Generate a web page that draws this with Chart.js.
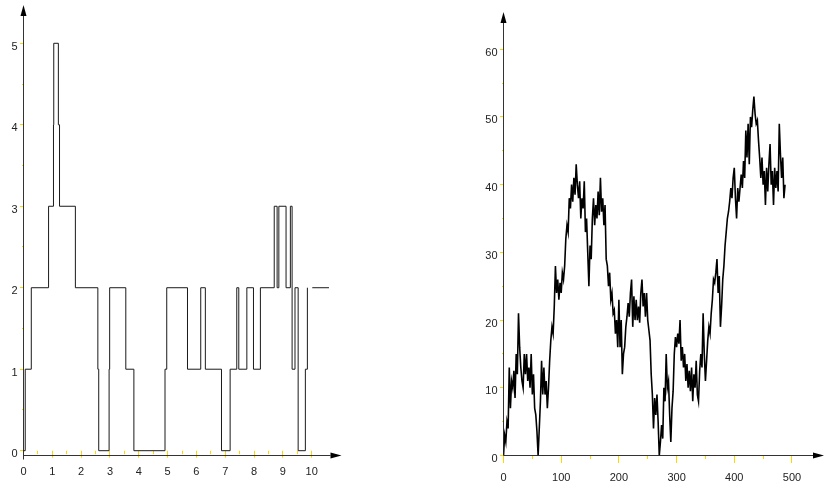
<!DOCTYPE html>
<html>
<head>
<meta charset="utf-8">
<script src="https://cdn.jsdelivr.net/npm/chart.js@4/dist/chart.umd.min.js"></script>
<style>
  html, body { margin: 0; padding: 0; background: #ffffff; }
  #wrap { position: relative; width: 824px; height: 484px; overflow: hidden; }
  .pane { position: absolute; top: 0; width: 412px; height: 484px; }
  #leftPane { left: 0; }
  #rightPane { left: 412px; }
</style>
</head>
<body>
<div id="wrap">
  <div class="pane" id="leftPane"><canvas id="stepChart" width="412" height="484"></canvas></div>
  <div class="pane" id="rightPane"><canvas id="walkChart" width="412" height="484"></canvas></div>
</div>
<script>
// ---- Left panel: piecewise-constant counting process ----
// Each level holds from its time until the next time.
const stepTimes  = [0, 0.06, 0.27, 0.87, 1.04, 1.05, 1.21, 1.25, 1.80, 2.58, 2.61, 2.97, 2.99,
                    3.55, 3.83, 4.91, 4.97, 5.69, 6.15, 6.31, 6.87, 7.17, 7.40, 7.47, 7.75,
                    7.98, 8.22, 8.70, 8.80, 8.86, 9.11, 9.26, 9.32, 9.42, 9.53, 9.78, 9.85];
const stepLevels = [0, 1, 2, 3, 4, 5, 4, 3, 2, 1, 0, 1, 2,
                    1, 0, 1, 2, 1, 2, 1, 0, 1, 2, 1, 2,
                    1, 2, 3, 2, 3, 2, 3, 1, 2, 0, 1, 2];
// Detached final piece of the path
const tailTimes  = [10.02, 10.60];
const tailLevels = [2, 2];
const stepXLabels = [0, 1, 2, 3, 4, 5, 6, 7, 8, 9, 10];
const stepYLabels = [0, 1, 2, 3, 4, 5];

// ---- Right panel: random walk, sampled every WALK_STRIDE steps ----
const WALK_STRIDE = 2;
const walkValues = [
  0, 3, 2, 5, 4, 13, 7, 11, 10, 12.5,
  8.5, 15, 12, 21, 16, 13, 11, 10, 15, 12,
  15, 11, 13, 10, 15, 9, 12, 7, 6, 3.5,
  0, 4, 8, 14, 9, 13, 9, 11, 7, 10,
  14, 17, 19, 18, 22, 28, 24, 26, 23, 25.5,
  24, 27, 26, 28, 32, 34, 33, 38, 36.5, 40,
  37.5, 41, 38.5, 43, 40, 38, 40.5, 35, 38, 36.5,
  40.5, 33, 35, 30, 25, 31, 29, 35, 38, 34,
  37, 35, 39, 35.5, 41, 36, 38, 34, 37, 29,
  28, 25, 27, 23, 24, 21, 21.5, 18, 20, 16,
  23, 16, 20, 12, 15, 16, 19, 20.5, 22.5, 20.5,
  24, 26, 19, 23.5, 20, 23, 20, 22, 19.6, 24,
  26, 22, 24, 20.5, 24, 20, 18.5, 17, 12, 9,
  4, 8.5, 6, 9, 5, 0, 2, 4.5, 2.5, 10,
  8, 15, 10, 11, 6, 2, 7, 9.5, 15, 17.5,
  16, 18, 16.5, 20, 14, 16, 13, 15, 11, 13.5,
  10, 12.5, 9.5, 13, 8, 12, 10, 14, 9, 8,
  12.5, 15, 13, 21, 15, 11, 14, 17, 19, 18,
  21, 23, 26, 25.5, 27, 29, 24, 26.5, 19, 22,
  26, 28, 31, 33, 35, 36, 37.5, 39.5, 38, 41,
  42.5, 38, 35, 39.5, 37.5, 39.5, 41.5, 39.5, 43.5, 41,
  48, 44, 49, 43, 50, 48.5, 51, 53, 50.5, 49,
  49.5, 46.5, 44, 41, 44, 40, 42, 37, 42.5, 39,
  43, 46, 40, 42, 37, 42.5, 39.5, 42, 39, 49,
  44.5, 41, 44, 38, 40
];
const walkXLabels = [0, 100, 200, 300, 400, 500];
const walkYLabels = [0, 10, 20, 30, 40, 50, 60];

const FONT = { family: "'Liberation Sans', Arial, Helvetica, sans-serif", size: 11 };
const TEXT = '#222222';
const TICK_YELLOW = '#ffd700';

// Draws arrowed axes through the origin plus short yellow tick marks
// (marks stop at the last labelled value of each axis).
const arrowAxes = {
  id: 'arrowAxes',
  beforeDatasetsDraw(chart, args, opts) {
    const { ctx, chartArea: a, scales: { x, y } } = chart;
    const x0 = Math.round(x.getPixelForValue(0) - 0.5) + 0.5;
    const y0 = y.getPixelForValue(0);
    const seg = (x1, y1, x2, y2) => { ctx.beginPath(); ctx.moveTo(x1, y1); ctx.lineTo(x2, y2); ctx.stroke(); };
    ctx.save();
    ctx.lineWidth = 1;
    ctx.strokeStyle = TICK_YELLOW;
    x.ticks.forEach(t => {
      if (t.value > opts.xLast) return;
      const px = Math.round(x.getPixelForValue(t.value) - 0.5) + 0.5;
      const len = t.label !== '' ? opts.xMajor : opts.xMinor;
      seg(px, y0, px, y0 + len);
    });
    y.ticks.forEach(t => {
      if (t.value > opts.yLast) return;
      const py = Math.round(y.getPixelForValue(t.value) - 0.5) + 0.5;
      const len = t.label !== '' ? opts.yMajor : opts.yMinor;
      seg(x0 - len, py, x0, py);
    });
    const ah = 11, aw = 3;
    const yb = Math.round(a.bottom - 0.5) + 0.5;
    ctx.strokeStyle = '#333333';
    seg(x0, a.bottom + opts.stemBelow, x0, a.top + ah);
    seg(a.left, yb, a.right - ah, yb);
    ctx.fillStyle = '#000000';
    ctx.beginPath();
    ctx.moveTo(x0, a.top); ctx.lineTo(x0 - aw, a.top + ah); ctx.lineTo(x0 + aw, a.top + ah);
    ctx.closePath(); ctx.fill();
    ctx.beginPath();
    ctx.moveTo(a.right, yb); ctx.lineTo(a.right - ah, yb - aw); ctx.lineTo(a.right - ah, yb + aw);
    ctx.closePath(); ctx.fill();
    ctx.restore();
  }
};

function fixedScale(range, step, labels, pad, size, vertical) {
  return {
    type: 'linear',
    min: range[0],
    max: range[1],
    grid: { display: false, drawTicks: false },
    border: { display: false },
    ticks: {
      stepSize: step,
      includeBounds: false,
      autoSkip: false,
      maxRotation: 0,
      padding: pad,
      labelOffset: vertical ? 3.5 : 0,
      color: TEXT,
      font: FONT,
      callback: v => (labels.includes(v) ? String(v) : '')
    },
    afterFit(s) {
      if (vertical) s.width = size; else s.height = size;
      s.paddingTop = 0; s.paddingBottom = 0; s.paddingLeft = 0; s.paddingRight = 0;
    }
  };
}

function baseOptions(padding, xScale, yScale, axesOpts) {
  return {
    responsive: false,
    devicePixelRatio: 1,
    animation: false,
    events: [],
    layout: { padding, autoPadding: false },
    plugins: { legend: { display: false }, tooltip: { enabled: false }, arrowAxes: axesOpts },
    scales: { x: xScale, y: yScale }
  };
}

new Chart(document.getElementById('stepChart'), {
  type: 'line',
  data: {
    datasets: [
      {
        data: stepTimes.map((t, i) => ({ x: t, y: stepLevels[i] })),
        stepped: true, borderColor: '#1a1a1a', borderWidth: 1, pointRadius: 0, fill: false
      },
      {
        data: tailTimes.map((t, i) => ({ x: t, y: tailLevels[i] })),
        stepped: true, borderColor: '#1a1a1a', borderWidth: 1, pointRadius: 0, fill: false
      }
    ]
  },
  options: baseOptions(
    { top: 5, right: 70.5, bottom: 0, left: 0 },
    fixedScale([0, 11.034], 0.5, stepXLabels, 10, 28.5, false),
    fixedScale([-0.059, 5.47], 0.5, stepYLabels, 6, 23.5, true),
    { xMajor: 7, xMinor: 3.5, yMajor: 3.5, yMinor: 1.5, stemBelow: 4,
      xLast: stepXLabels[stepXLabels.length - 1], yLast: stepYLabels[stepYLabels.length - 1] }
  ),
  plugins: [arrowAxes]
});

new Chart(document.getElementById('walkChart'), {
  type: 'line',
  data: {
    datasets: [{
      data: walkValues.map((v, k) => ({ x: k * WALK_STRIDE, y: v })),
      borderColor: '#000000', borderWidth: 1.6, pointRadius: 0, fill: false
    }]
  },
  options: baseOptions(
    { top: 12, right: 0, bottom: 0, left: 0 },
    fixedScale([0, 555.5], 50, walkXLabels, 16, 28.5, false),
    fixedScale([0, 65.5], 5, walkYLabels, 6, 91.5, true),
    { xMajor: 7.5, xMinor: 3.5, yMajor: 3.5, yMinor: 1.5, stemBelow: 0,
      xLast: walkXLabels[walkXLabels.length - 1], yLast: walkYLabels[walkYLabels.length - 1] }
  ),
  plugins: [arrowAxes]
});
</script>
</body>
</html>
